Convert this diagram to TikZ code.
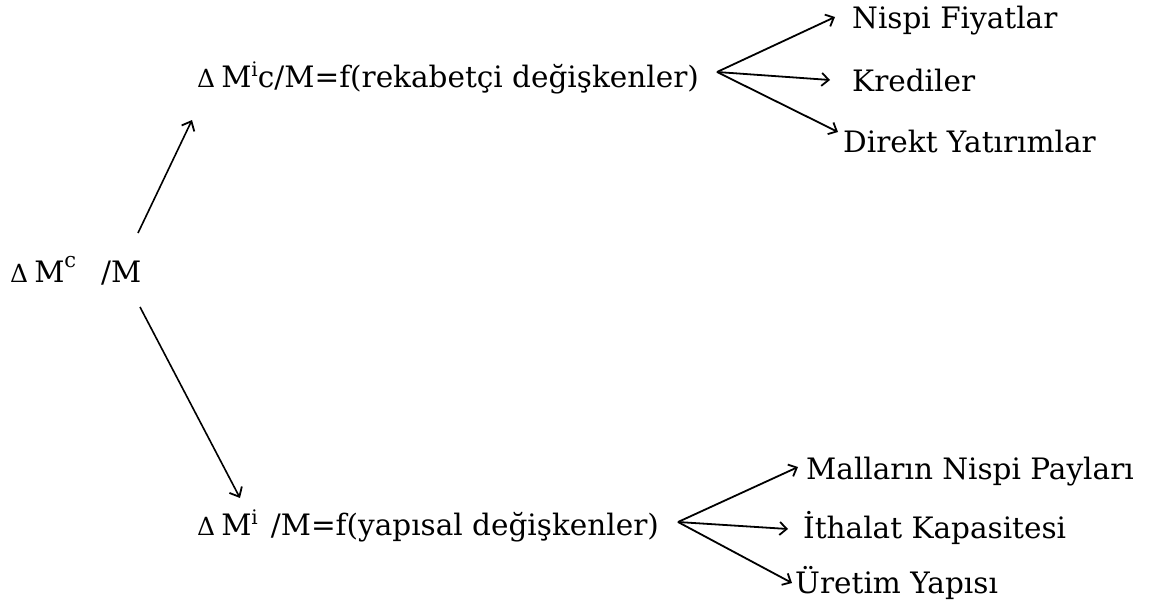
\documentclass[tikz,border=0pt]{standalone}
\usepackage{fontspec}
\setmainfont{DejaVu Serif}
\usetikzlibrary{arrows.meta}
\tikzset{
  lbl/.style={anchor=base west, inner sep=0pt, font=\fontsize{29.5}{34}\selectfont},
  arr/.style={line width=1.8pt, -{Straight Barb[length=7pt,width=13pt,line width=1.8pt]}},
  longarr/.style={line width=1.6pt, -{Straight Barb[length=8pt,width=14pt,line width=1.8pt]}}
}
\newcommand{\dlt}{{\fontsize{25}{25}\selectfont Δ}}
\newcommand{\supi}{\raisebox{11pt}{\fontsize{20}{20}\selectfont i}}
\newcommand{\supc}{\raisebox{15pt}{\fontsize{21}{21}\selectfont c}}
\begin{document}
\begin{tikzpicture}[x=1pt,y=-1pt]
\useasboundingbox (0,0) rectangle (1158,613);
% nodes
\node[lbl] (root) at (10,282) {\dlt\hspace{6pt}M\supc\hspace{25pt}/M};
\node[lbl] (top) at (197,87) {\dlt\hspace{6pt}M\supi c/M=f(rekabetçi değişkenler)};
\node[lbl] (bot) at (197,535) {\dlt\hspace{6pt}M\supi\hspace{13pt}/M=f(yapısal değişkenler)};
\node[lbl] (t1) at (852,28) {Nispi Fiyatlar};
\node[lbl] (t2) at (852,91) {Krediler};
\node[lbl] (t3) at (843,152) {Direkt Yatırımlar};
\node[lbl] (b1) at (806,479) {Malların Nispi Payları};
\node[lbl] (b2) at (803,538) {İthalat Kapasitesi};
\node[lbl] (b3) at (795,593) {Üretim Yapısı};
% connector points
\coordinate (rootup) at (138,233);
\coordinate (rootdn) at (140,307);
\coordinate (topin) at (192,120);
\coordinate (botin) at (240,498);
\coordinate (tf) at (717,72);
\coordinate (bf) at (678,522);
\coordinate (t1in) at (835,17);
\coordinate (t2in) at (830,80);
\coordinate (t3in) at (838,132);
\coordinate (b1in) at (798,467);
\coordinate (b2in) at (788,529);
\coordinate (b3in) at (792,583);
% connectors
\draw[longarr] (rootup) -- (topin);
\draw[longarr] (rootdn) -- (botin);
\draw[arr] (tf) -- (t1in);
\draw[arr] (tf) -- (t2in);
\draw[arr] (tf) -- (t3in);
\draw[arr] (bf) -- (b1in);
\draw[arr] (bf) -- (b2in);
\draw[arr] (bf) -- (b3in);
\end{tikzpicture}
\end{document}
